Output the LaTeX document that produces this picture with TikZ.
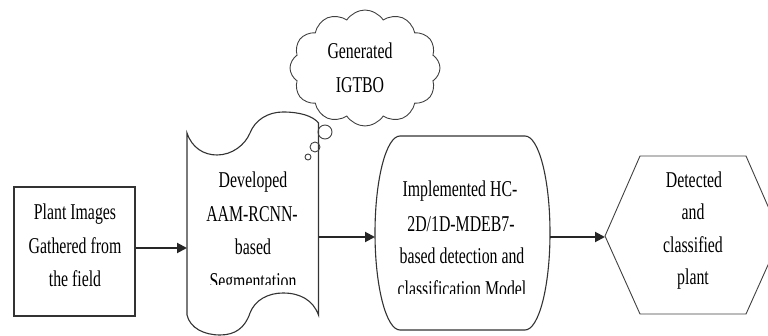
\documentclass[tikz,border=0pt]{standalone}
\usepackage{fontspec}
\newfontfamily\narrowserif[FakeStretch=0.70]{Liberation Serif}
\usetikzlibrary{shapes.symbols,arrows.meta}
\begin{document}
\begin{tikzpicture}[x=1pt,y=-1pt,
  shapeline/.style={draw=black!80, line width=1.1pt},
  thinline/.style={draw=black!75, line width=0.9pt},
  txt/.style={anchor=base, inner sep=0pt, font=\narrowserif\fontsize{22.6}{26}\selectfont},
  arr/.style={draw=black!85, line width=2pt, -{Triangle[length=10pt,width=10pt]}},
]
\useasboundingbox (0,0) rectangle (768,336);

% Box 1
\node[shapeline, rectangle, minimum width=121pt, minimum height=129pt, inner sep=0pt] (box1) at (74.5,251.5) {};
\node[txt] (b1a) at (75,220) {Plant Images};
\node[txt] (b1b) at (75,254) {Gathered from};
\node[txt] (b1c) at (75,287) {the field};

% Document (punched tape) shape
\draw[shapeline] (187,133)
  .. controls (192,148) and (204,155) .. (217,155)
  .. controls (232,155) and (245,145) .. (250,133)
  .. controls (255,120) and (268,112) .. (283,112)
  .. controls (300,112) and (313,116) .. (318.5,123)
  -- (318.5,315)
  .. controls (313,300) and (300,293) .. (283,293)
  .. controls (268,293) and (255,300) .. (250,313)
  .. controls (245,328) and (235,335) .. (220,335)
  .. controls (204,335) and (190,328) .. (187,315)
  -- cycle;
\coordinate (docw) at (187,248);
\coordinate (doce) at (318.5,237);
\node[txt] (d1) at (253,188) {Developed};
\node[txt] (d2) at (252,222) {AAM-RCNN-};
\node[txt] (d3) at (253,255) {based};
\begin{scope}
  \clip (190,150) rectangle (316,285);
  \node[txt] (d4) at (253,289) {Segmentation};
\end{scope}

% Cloud
\node[cloud, thinline, cloud puffs=12, cloud puff arc=115, aspect=1.3,
      minimum width=150pt, minimum height=116pt, inner sep=0pt] (cloud) at (365,68) {};
\node[txt] (c1) at (360,59) {Generated};
\node[txt] (c2) at (360,93) {IGTBO};
\node[thinline, circle, minimum size=14pt, inner sep=0pt] (bub1) at (325,132) {};
\node[thinline, circle, minimum size=10pt, inner sep=0pt] (bub2) at (315,147) {};
\node[thinline, circle, minimum size=6pt, inner sep=0pt] (bub3) at (308,157) {};

% Rounded process shape
\draw[shapeline] (400,136) -- (525,136)
  .. controls (538.8,136) and (550,179.4) .. (550,233)
  .. controls (550,286.6) and (538.8,330) .. (525,330)
  -- (400,330)
  .. controls (386.2,330) and (375,286.6) .. (375,233)
  .. controls (375,179.4) and (386.2,136) .. (400,136) -- cycle;
\coordinate (procw) at (375,237);
\coordinate (proce) at (550,237);
\node[txt] (p1) at (460,197) {Implemented HC-};
\node[txt] (p2) at (461,231.5) {2D/1D-MDEB7-};
\node[txt] (p3) at (462,264) {based detection and};
\begin{scope}
  \clip (380,270) rectangle (545,294);
  \node[txt] (p4) at (462,297) {classification Model};
\end{scope}

% Hexagon
\draw[thinline] (605,236) -- (640,156) -- (746,156) -- (781,236) -- (746,314) -- (640,314) -- cycle;
\coordinate (hexw) at (605,237);
\node[txt] (h1) at (694,188) {Detected};
\node[txt] (h2) at (693,220) {and};
\node[txt] (h3) at (693,253) {classified};
\node[txt] (h4) at (693,285) {plant};

% Arrows
\draw[arr] (box1.east |- docw) -- (docw);
\draw[arr] (doce) -- (procw);
\draw[arr] (proce) -- (hexw);
\end{tikzpicture}
\end{document}
